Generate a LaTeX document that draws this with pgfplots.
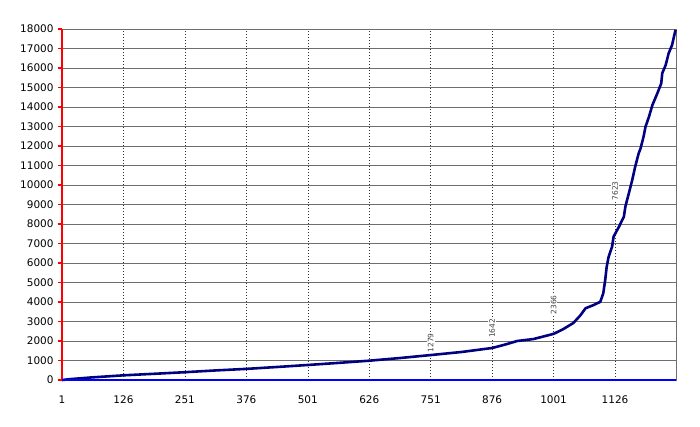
\documentclass[border=0pt]{standalone}
\usepackage{pgfplots}
\pgfplotsset{compat=1.18}
\usepackage{fontspec}
\setmainfont{DejaVu Sans}
\definecolor{curve}{RGB}{0,0,128}
\definecolor{gridgray}{RGB}{110,110,110}
\begin{document}
\begin{tikzpicture}
\begin{axis}[
  scale only axis,
  width=614bp, height=351bp,
  xmin=1, xmax=1250, ymin=0, ymax=18000,
  xtick={1,126,251,376,501,626,751,876,1001,1126},
  ytick={0,1000,...,18000},
  scaled ticks=false,
  /pgf/number format/assume math mode=true,
  /pgf/number format/1000 sep={},
  tick label style={font=\fontsize{10.5}{11}\selectfont, black},
  xticklabel style={yshift=-8bp},
  yticklabel style={xshift=-1bp},
  axis line style={gridgray, line width=0.8pt},
  ymajorgrids, xmajorgrids,
  x grid style={black!80, dash pattern=on 1.5bp off 1.5bp, line width=0.6pt},
  y grid style={gridgray, solid, line width=0.7pt},
  ytick style={red, line width=1.2pt},
  major tick length=4bp,
  tick align=outside,
  ytick pos=left,
  xtick style={draw=none},
  clip=false,
]
\addplot[curve, line width=2.6pt, line join=round] coordinates {
(1,0) (20,50) (60,130) (126,240) (190,320) (251,400) (313,490) (376,570)
(440,670) (501,770) (565,880) (626,990) (690,1130) (751,1279) (815,1440)
(876,1642) (900,1800) (927,2000) (960,2100) (1001,2366) (1020,2600)
(1041,2920) (1055,3300) (1066,3680) (1083,3850) (1096,4010) (1102,4440)
(1106,5130) (1109,5810) (1113,6320) (1120,6840) (1123,7350) (1134,7860)
(1144,8380) (1147,8890) (1154,9570) (1161,10260) (1167,10940) (1174,11620)
(1178,11880) (1184,12480) (1188,12990) (1195,13500) (1202,14100)
(1212,14700) (1220,15210) (1222,15730) (1229,16150) (1235,16750)
(1242,17180) (1249,17950)
};
\draw[red, line width=2pt] (rel axis cs:0,0) -- (rel axis cs:0,1);
\draw[blue, line width=2pt] (rel axis cs:0,0) -- (rel axis cs:1,0);
\node[rotate=90, fill=white, inner sep=1pt, text=black!75, font=\fontsize{7.5}{8}\selectfont] at (axis cs:751,1900) {1279};
\node[rotate=90, fill=white, inner sep=1pt, text=black!75, font=\fontsize{7.5}{8}\selectfont] at (axis cs:876,2650) {1642};
\node[rotate=90, fill=white, inner sep=1pt, text=black!75, font=\fontsize{7.5}{8}\selectfont] at (axis cs:1001,3850) {2366};
\node[rotate=90, fill=white, inner sep=1pt, text=black!75, font=\fontsize{7.5}{8}\selectfont] at (axis cs:1126,9700) {7623};
\path (rel axis cs:0,0) ++(-62bp,-47bp) coordinate (bbsw);
\path (rel axis cs:1,1) ++(24bp,29bp) coordinate (bbne);
\end{axis}
\useasboundingbox (bbsw) rectangle (bbne);
\end{tikzpicture}
\end{document}
